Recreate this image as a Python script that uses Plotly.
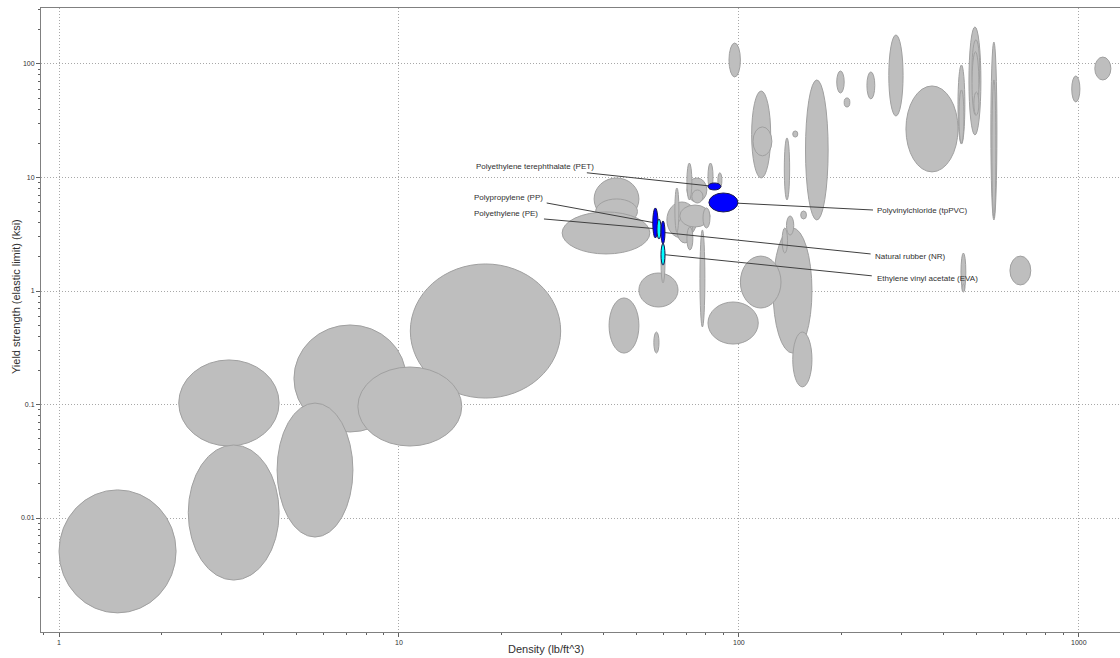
import numpy as np
import plotly.graph_objects as go

# ---- grey background materials: density range (lb/ft^3), yield strength range (ksi)
grey_dmin = [4.91, 10.8, 7.57, 4.38, 2.25, 2.40, 1.00, 37.5, 37.9, 30.2, 41.5, 56.2, 50.8, 59.0,
             76.8, 81.1, 126, 101, 144, 134, 138, 152,
             61.4, 65.7, 70.3, 67.0, 72.7, 64.8, 70.3, 81.1, 70.3, 78.4, 86.7,
             93.5, 109, 110, 136, 144, 157, 194, 204, 238, 276, 310, 441, 444, 475, 485, 485, 491,
             551, 555, 953, 1114, 627, 450, 453]
grey_dmax = [10.5, 29.9, 15.3, 7.32, 4.44, 4.44, 2.21, 50.8, 50.3, 54.7, 50.8, 58.2, 66.2, 60.6,
             79.4, 114, 164, 133, 164, 139, 145, 158,
             75.2, 73.2, 80.5, 82.2, 78.4, 66.6, 72.7, 83.9, 73.2, 82.2, 89.1,
             101, 124, 125, 141, 149, 183, 204, 212, 251, 304, 441, 462, 459, 515, 511, 508, 508,
             574, 570, 1007, 1242, 722, 465, 462]
grey_smin = [0.0573, 0.114, 0.0431, 0.0068, 0.0431, 0.00284, 0.00146, 4.22, 3.89, 2.12, 0.284, 0.284, 0.723, 1.18,
             0.482, 0.341, 0.284, 0.708, 0.143, 2.16, 3.11, 4.31,
             2.93, 2.65, 6.08, 3.66, 5.96, 3.31, 6.34, 7.76, 2.30, 3.59, 8.08,
             76.8, 9.9, 15.5, 6.34, 22.7, 4.22, 55.5, 41.8, 49.2, 34.8, 11.2, 19.7, 20.0, 23.7, 51.2, 35.5, 35.5,
             4.22, 4.40, 46.3, 72.3, 1.13, 1.00, 0.98]
grey_smax = [0.502, 1.73, 0.214, 0.103, 0.247, 0.0440, 0.0177, 9.9, 6.47, 4.97, 0.868, 0.435, 1.44, 2.65,
             3.45, 0.800, 3.59, 2.03, 0.435, 3.59, 4.58, 5.07,
             6.08, 4.49, 9.9, 5.72, 7.76, 8.08, 13.4, 13.4, 3.66, 5.39, 11.0,
             153, 57.8, 27.9, 22.3, 25.7, 72.3, 86.7, 50.2, 85.1, 180, 64.0, 98.0, 59.0, 212, 163, 128, 56.6,
             156, 72.3, 78.4, 115, 2.03, 2.16, 1.15]

# ---- highlighted materials
hl_names = ["Polypropylene (PP)", "Polyethylene (PE)", "Natural rubber (NR)",
            "Ethylene vinyl acetate (EVA)", "Polyethylene terephthalate (PET)", "Polyvinylchloride (tpPVC)"]
hl_dmin = [55.8, 57.4, 59.0, 59.0, 81.1, 81.6]
hl_dmax = [57.8, 59.0, 60.6, 60.6, 88.5, 99.3]
hl_smin = [2.93, 2.87, 2.60, 1.69, 7.76, 4.97]
hl_smax = [5.39, 4.31, 4.14, 2.60, 8.95, 7.30]
hl_color = ["#0000FF", "#00FFFF", "#0000FF", "#00FFFF", "#0000FF", "#0000FF"]
# label text anchor (left, middle) and leader-line start, in data units
lab_x = [16.4, 16.4, 248, 251, 16.6, 251]
lab_y = [6.73, 4.86, 2.03, 1.28, 12.6, 5.07]
lead_x = [27.2, 26.7, 244, 246, 35.7, 248]
lead_y = [5.96, 4.31, 2.12, 1.36, 11.0, 5.17]

x_ticks = [1, 10, 100, 1000]
y_ticks = [0.01, 0.1, 1, 10, 100]

shapes = []
for a, b, c, d in zip(grey_dmin, grey_dmax, grey_smin, grey_smax):
    shapes.append(dict(type="circle", xref="x", yref="y", x0=a, x1=b, y0=c, y1=d,
                       fillcolor="#BEBEBE", line=dict(color="#A0A0A0", width=1), layer="between"))
for i in range(len(hl_names)):
    cx = np.sqrt(hl_dmin[i] * hl_dmax[i])
    cy = np.sqrt(hl_smin[i] * hl_smax[i])
    shapes.append(dict(type="line", xref="x", yref="y", x0=lead_x[i], y0=lead_y[i], x1=cx, y1=cy,
                       line=dict(color="#404040", width=1), layer="between"))
for i in range(len(hl_names)):
    shapes.append(dict(type="circle", xref="x", yref="y", x0=hl_dmin[i], x1=hl_dmax[i],
                       y0=hl_smin[i], y1=hl_smax[i], fillcolor=hl_color[i],
                       line=dict(color="#1A1A50", width=1), layer="above"))

annotations = []
for i, n in enumerate(hl_names):
    annotations.append(dict(x=np.log10(lab_x[i]), y=np.log10(lab_y[i]), xref="x", yref="y", text=n,
                            showarrow=False, xanchor="left", yanchor="middle",
                            font=dict(family="Liberation Sans, Arial", size=8, color="#303030")))
annotations.append(dict(x=0.468, y=-0.027, xref="paper", yref="paper", text="Density (lb/ft^3)",
                        showarrow=False, xanchor="center", yanchor="middle",
                        font=dict(family="Liberation Sans, Arial", size=11, color="#303030")))
annotations.append(dict(x=-0.023, y=0.537, xref="paper", yref="paper",
                        text="Yield strength (elastic limit) (ksi)", textangle=-90,
                        showarrow=False, xanchor="center", yanchor="middle",
                        font=dict(family="Liberation Sans, Arial", size=11, color="#303030")))

minor_x = [m * 10.0 ** k for k in range(-1, 4) for m in range(2, 10)]
minor_y = [m * 10.0 ** k for k in range(-4, 3) for m in range(2, 10)]

fig = go.Figure()
fig.update_layout(
    width=1120, height=658,
    margin=dict(l=41, r=0, t=8, b=26),
    paper_bgcolor="white", plot_bgcolor="white",
    showlegend=False, shapes=shapes, annotations=annotations,
    font=dict(family="Liberation Sans, Arial", size=7, color="#303030"),
)
axis_common = dict(
    type="log", showline=True, linecolor="#808080", linewidth=1, mirror=True,
    ticks="outside", ticklen=4, tickcolor="#606060",
    showgrid=True, gridcolor="#A8A8A8", griddash="1px,2px", gridwidth=1, zeroline=False,
    tickfont=dict(family="Liberation Sans, Arial", size=7, color="#303030"),
)
fig.update_xaxes(**axis_common, range=[-0.053, 3.121], tickmode="array",
                 tickvals=x_ticks, ticktext=[str(v) for v in x_ticks],
                 minor=dict(tickmode="array", tickvals=minor_x, ticks="outside", ticklen=2,
                            tickcolor="#606060", showgrid=False))
fig.update_yaxes(**axis_common, range=[-3.004, 2.493], tickmode="array",
                 tickvals=y_ticks, ticktext=["0.01", "0.1", "1", "10", "100"],
                 minor=dict(tickmode="array", tickvals=minor_y, ticks="outside", ticklen=2,
                            tickcolor="#606060", showgrid=False))
fig.write_html("out.html")
